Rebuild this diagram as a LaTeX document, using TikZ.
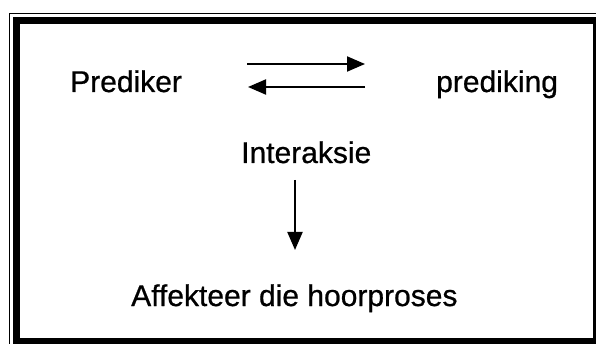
\documentclass[tikz,border=0pt]{standalone}
\usepackage{fontspec}
\setmainfont{Liberation Sans}[Ligatures=NoCommon]
\newfontfamily\scanfont{Liberation Sans}[Ligatures=NoCommon,FakeBold=0.7]
\usetikzlibrary{arrows.meta}
\tikzset{
  lbl/.style={anchor=base west, inner sep=0pt, font=\scanfont\fontsize{30}{34}\selectfont},
  arr/.style={line width=2pt, -{Triangle[length=18pt,width=15pt]}},
}
\begin{document}
\begin{tikzpicture}[x=1pt,y=-1pt]
\clip (0,0) rectangle (596,344);
\fill[white] (0,0) rectangle (596,344);
% frame
\draw[line width=1.5pt] (9.5,13.5) rectangle (640,380);
\draw[line width=7pt] (16,20.5) rectangle (596.5,341);
% texts
\node[lbl] (p) at (70,92) {Prediker};
\node[lbl] (q) at (436,92) {prediking};
\node[lbl] (i) at (241,163) {Interaksie};
\node[lbl] (a) at (131,306) {Affekteer die hoorproses};
% arrows
\coordinate (r1) at (247,64);
\coordinate (r2) at (365,64);
\coordinate (l1) at (365,87);
\coordinate (l2) at (248,87);
\coordinate (d1) at (295,180);
\coordinate (d2) at (295,250);
\draw[arr] (r1) -- (r2);
\draw[arr] (l1) -- (l2);
\draw[arr] (d1) -- (d2);
\end{tikzpicture}
\end{document}
